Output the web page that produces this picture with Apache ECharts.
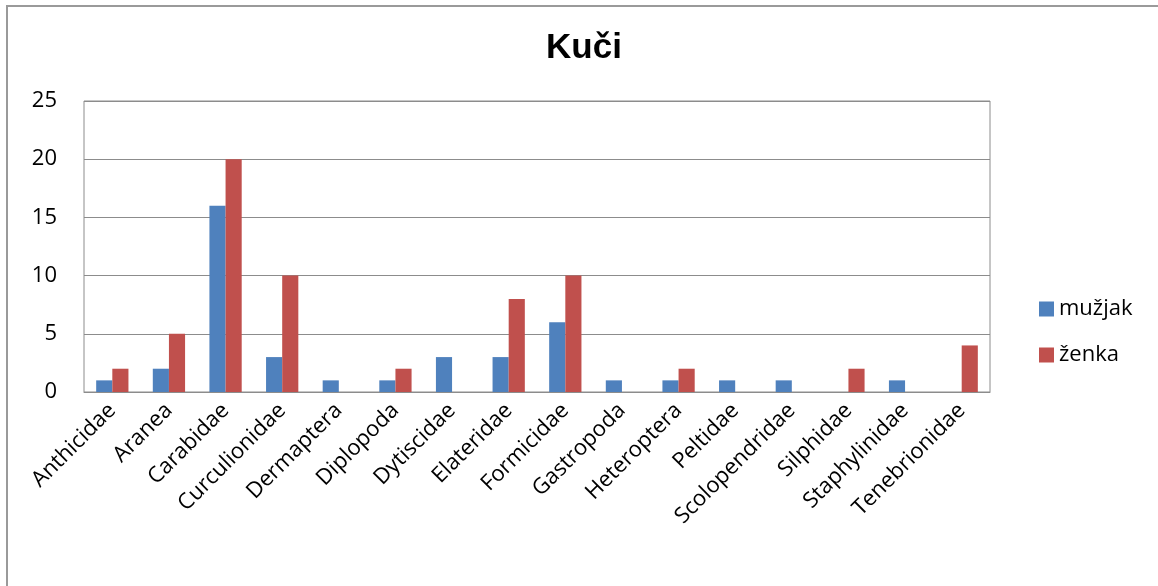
<!DOCTYPE html>
<html><head><meta charset="utf-8">
<script src="https://cdn.jsdelivr.net/npm/echarts@6/dist/echarts.min.js"></script>
<style>html,body{margin:0;padding:0;background:#fff;overflow:hidden;width:1158px;height:586px;position:relative}#c{width:1158px;height:586px}
#frame{position:absolute;left:6px;top:5px;width:1200px;height:700px;border:2px solid #9a9a9a;box-sizing:border-box;pointer-events:none}</style>
</head><body><div id="c"></div><div id="frame"></div>
<script>
const categories = ["Anthicidae","Aranea","Carabidae","Curculionidae","Dermaptera","Diplopoda","Dytiscidae","Elateridae","Formicidae","Gastropoda","Heteroptera","Peltidae","Scolopendridae","Silphidae","Staphylinidae","Tenebrionidae"];
const muzjak = [1,2,16,3,1,1,3,3,6,1,1,1,1,0,1,0];
const zenka = [2,5,20,10,0,2,0,8,10,0,2,0,0,2,0,4];
const yTicks = [0,5,10,15,20,25];
const chart = echarts.init(document.getElementById('c'));
const font = "Open Sans";
chart.setOption({
  animation:false,
  title:{text:"Kuči",left:579,top:26,textAlign:'center',textStyle:{fontFamily:"Liberation Sans",fontWeight:'bold',fontSize:35,color:'#000'}},
  legend:{orient:'vertical',left:1034,top:293,itemWidth:15,itemHeight:15,itemGap:24,icon:'rect',
    textStyle:{fontFamily:font,fontSize:22,color:'#000'},data:['mužjak','ženka']},
  grid:{left:84,right:168,top:101,bottom:194,show:true,borderColor:'#8c8c8c',borderWidth:1},
  xAxis:{type:'category',data:categories,
    axisLine:{lineStyle:{color:'#8c8c8c'}},axisTick:{show:false},
    axisLabel:{interval:0,rotate:45,fontFamily:font,fontSize:22,color:'#000',margin:15}},
  yAxis:{type:'value',min:yTicks[0],max:yTicks[yTicks.length-1],interval:5,
    axisLine:{show:false},axisTick:{show:false},
    splitLine:{lineStyle:{color:'#8c8c8c'}},
    axisLabel:{fontFamily:font,fontSize:22,color:'#000',margin:27}},
  series:[
    {name:'mužjak',type:'bar',data:muzjak,itemStyle:{color:'#4F81BD'},barGap:'0%',barCategoryGap:'43%'},
    {name:'ženka',type:'bar',data:zenka,itemStyle:{color:'#C0504D'},barGap:'0%',barCategoryGap:'43%'}
  ]
});
</script></body></html>
